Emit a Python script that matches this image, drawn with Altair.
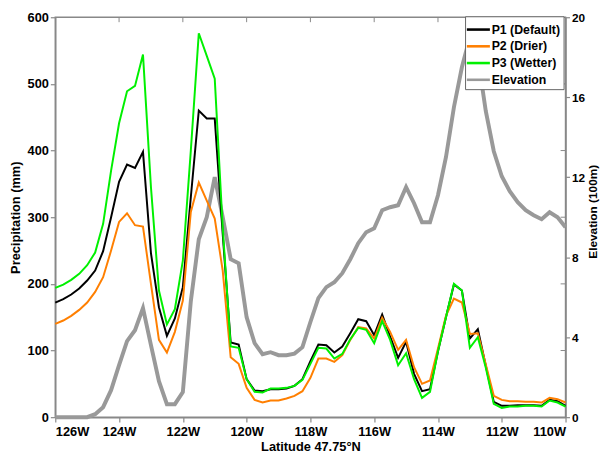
import altair as alt
import pandas as pd

# Longitude (degrees West), 0.25 degree grid
lon_w = [126.0, 125.75, 125.5, 125.25, 125.0, 124.75, 124.5, 124.25, 124.0, 123.75,
         123.5, 123.25, 123.0, 122.75, 122.5, 122.25, 122.0, 121.75, 121.5, 121.25,
         121.0, 120.75, 120.5, 120.25, 120.0, 119.75, 119.5, 119.25, 119.0, 118.75,
         118.5, 118.25, 118.0, 117.75, 117.5, 117.25, 117.0, 116.75, 116.5, 116.25,
         116.0, 115.75, 115.5, 115.25, 115.0, 114.75, 114.5, 114.25, 114.0, 113.75,
         113.5, 113.25, 113.0, 112.75, 112.5, 112.25, 112.0, 111.75, 111.5, 111.25,
         111.0, 110.75, 110.5, 110.25, 110.0]

# Precipitation (mm)
p1_default = [172, 177, 184, 193, 205, 220, 249, 300, 353, 379,
              374, 398, 246, 165, 122, 148, 195, 330, 460, 448,
              448, 275, 112, 109, 57, 40, 39, 42, 42, 43,
              47, 57, 84, 109, 108, 97, 106, 126, 147, 144,
              123, 154, 121, 89, 113, 65, 39, 42, 99, 150,
              199, 190, 118, 132, 77, 23, 17, 17, 18, 18,
              18, 17, 26, 24, 17]
p2_drier = [140, 145, 152, 161, 172, 188, 210, 250, 293, 306,
            288, 286, 200, 116, 97, 128, 175, 308, 352, 325,
            298, 220, 90, 80, 44, 26, 22, 25, 25, 28,
            32, 39, 59, 88, 88, 83, 93, 116, 135, 133,
            118, 149, 128, 101, 116, 75, 50, 55, 103, 152,
            178, 172, 125, 126, 79, 32, 26, 24, 24, 23,
            23, 22, 29, 27, 22]
p3_wetter = [194, 199, 206, 215, 228, 247, 290, 370, 441, 489,
             497, 544, 345, 190, 139, 162, 235, 400, 576, 542,
             508, 285, 106, 104, 57, 38, 37, 43, 43, 44,
             47, 56, 80, 104, 103, 88, 95, 117, 134, 131,
             111, 144, 116, 78, 96, 57, 29, 38, 99, 150,
             200, 190, 104, 120, 74, 20, 14, 16, 16, 17,
             17, 16, 25, 22, 16]
# Elevation (100 m)
elevation = [0, 0, 0, 0, 0, 0.15, 0.5, 1.35, 2.6, 3.8,
             4.35, 5.45, 3.6, 1.8, 0.65, 0.65, 1.25, 5.8, 8.9, 10.0,
             12.0, 10.0, 7.9, 7.7, 5.0, 3.7, 3.15, 3.25, 3.1, 3.1,
             3.18, 3.5, 4.76, 5.95, 6.5, 6.75, 7.2, 7.9, 8.7, 9.25,
             9.45, 10.35, 10.5, 10.6, 11.5, 10.7, 9.75, 9.75, 11.1, 13.0,
             15.5, 17.5, 19.0, 18.0, 15.3, 13.3, 12.05, 11.3, 10.75, 10.35,
             10.1, 9.9, 10.25, 10.0, 9.5]

series_names = ["P1 (Default)", "P2 (Drier)", "P3 (Wetter)", "Elevation"]
series_colors = ["#000000", "#ff7f00", "#00f000", "#999999"]

x_ticks = [126, 124, 122, 120, 118, 116, 114, 112, 110]
p_ticks = [0, 100, 200, 300, 400, 500, 600]
e_ticks = [0, 4, 8, 12, 16, 20]

rows = []
for name, vals in zip(series_names[:3], [p1_default, p2_drier, p3_wetter]):
    for lo, v in zip(lon_w, vals):
        rows.append({"lon": lo, "value": v, "series": name})
precip_df = pd.DataFrame(rows)
elev_df = pd.DataFrame({"lon": lon_w, "value": elevation, "series": "Elevation"})

W, H = 518, 406
FONT = "Liberation Sans"
AX = "#888888"

x_scale = alt.Scale(domain=[126, 110], nice=False, zero=False)
x_axis = alt.Axis(values=x_ticks, labelExpr="datum.value + 'W'", title="Latitude 47.75°N",
                  grid=False, tickSize=5, labelPadding=4, titlePadding=2)
p_scale = alt.Scale(domain=[0, 600], nice=False)
p_axis = alt.Axis(values=p_ticks, title="Precipitation (mm)", grid=False, orient="left",
                  tickSize=5, labelPadding=2, titlePadding=5)
e_scale = alt.Scale(domain=[0, 20], nice=False)
e_axis = alt.Axis(values=e_ticks, title="Elevation (100m)", grid=False, orient="right",
                  tickSize=4, labelPadding=2, labelFontSize=12,
                  titleAngle=270, titleFontSize=12, titleX=34, titleY=H / 2 - 6,
                  titleBaseline="bottom", titleAlign="center")

color = alt.Color("series:N", scale=alt.Scale(domain=series_names, range=series_colors),
                  title=None, sort=series_names)

elev_layer = alt.Chart(elev_df).mark_line(strokeWidth=4).encode(
    x=alt.X("lon:Q", scale=x_scale, axis=x_axis),
    y=alt.Y("value:Q", scale=e_scale, axis=e_axis),
    color=color,
)

precip_lines = alt.Chart(precip_df).mark_line(strokeWidth=2).encode(
    x=alt.X("lon:Q", scale=x_scale, axis=x_axis),
    y=alt.Y("value:Q", scale=p_scale, axis=p_axis),
    color=color,
)

top_ticks = alt.Chart(pd.DataFrame({"lon": x_ticks[1:-1]})).mark_rule(color=AX, strokeWidth=1).encode(
    x=alt.X("lon:Q", scale=x_scale, axis=x_axis),
    y=alt.value(0), y2=alt.value(5),
)
right_ticks = alt.Chart(pd.DataFrame({"value": p_ticks[1:-1]})).mark_rule(color=AX, strokeWidth=1).encode(
    y=alt.Y("value:Q", scale=p_scale, axis=p_axis),
    x=alt.value(W - 5), x2=alt.value(W),
)

precip = alt.layer(precip_lines, top_ticks, right_ticks)

chart = alt.layer(elev_layer, precip).resolve_scale(y="independent").properties(
    width=W, height=H,
    autosize=alt.AutoSizeParams(type="none"),
    padding={"left": 48, "top": 6, "right": 36, "bottom": 35},
).configure_view(
    stroke=AX, strokeWidth=1.5
).configure_axis(
    domainColor=AX, domainWidth=1.5, tickColor=AX, tickWidth=1.2,
    labelFont=FONT, labelFontSize=13, labelFontWeight="bold", labelColor="#000000",
    titleFont=FONT, titleFontSize=13, titleFontWeight="bold", titleColor="#000000",
).configure_legend(
    orient="none", legendX=416, legendY=-1,
    fillColor="#ffffff", strokeColor="#666666", padding=3,
    symbolType="M-1.3,0H1.3", symbolSize=324, symbolStrokeWidth=2.6,
    labelFont=FONT, labelFontSize=12.5,
    labelFontWeight="bold", labelColor="#000000", labelOffset=3, rowPadding=0,
)

chart.save("out.html", embed_options={"renderer": "svg", "actions": False})
